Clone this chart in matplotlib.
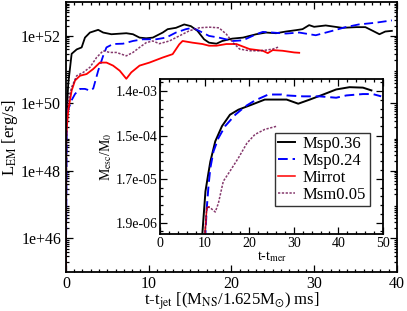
import numpy as np
import matplotlib
matplotlib.use('Agg')
import matplotlib.pyplot as plt
from matplotlib.ticker import MultipleLocator, FixedLocator, LogLocator, NullFormatter

plt.rcParams['font.family'] = ['Liberation Serif', 'DejaVu Serif']
plt.rcParams['mathtext.fontset'] = 'stix'

# Main panel: EM luminosity, log10(L_EM [erg/s]) vs t - t_jet
t_msp036 = [0, 0.05, 0.28, 0.69, 1.3, 1.9, 2.3, 2.9, 3.9, 4.5, 5.5, 6.1, 7.3, 8.1, 8.9, 9.7, 10.5,
            11.7, 12.3, 13.3, 14.3, 15.1, 15.9, 16.7, 17.3, 18.2, 18.9, 20.1, 21.4, 23.0, 24.2,
            25.4, 26.6, 27.8, 28.6, 29.4, 30.0, 31.4, 33.4, 35.1, 36.2, 37.1, 37.9, 38.6, 39.4]
L_msp036 = [44.5, 49.5, 50.59, 51.47, 51.6, 51.66, 51.95, 52.1, 52.18, 52.1, 52.05, 52.06, 52.08,
            52.05, 51.95, 51.93, 51.95, 52.1, 52.2, 52.24, 52.34, 52.29, 52.15, 51.9, 51.8, 51.77,
            51.85, 51.92, 51.95, 52.05, 52.1, 52.08, 52.13, 52.17, 52.2, 52.32, 52.27, 52.31,
            52.24, 52.26, 52.26, 52.15, 52.05, 52.13, 52.15]

t_msp024 = [0, 0.1, 0.7, 1.1, 1.7, 2.3, 2.9, 3.3, 3.9, 4.5, 4.9, 5.7, 6.9, 8.1, 9.3, 10.9, 12.1,
            13.3, 14.5, 15.3, 16.1, 17.3, 18.5, 20.2, 21.4, 23.0, 23.8, 25.0, 26.6, 28.2, 30.2,
            32.2, 33.8, 35.4, 37.4, 39.4]
L_msp024 = [44.5, 49.7, 50.1, 50.28, 50.43, 50.43, 50.38, 50.44, 50.97, 51.41, 51.66, 51.76, 51.77,
            51.85, 51.9, 51.9, 51.95, 52.1, 52.2, 52.24, 52.15, 52.0, 51.95, 51.85, 51.87, 52.05,
            52.12, 52.1, 52.07, 52.1, 52.02, 52.15, 52.26, 52.34, 52.39, 52.46]

t_mirrot = [0, 0.02, 0.28, 0.69, 1.1, 1.7, 2.5, 3.3, 4.1, 4.9, 5.7, 6.5, 7.3, 7.9, 8.9, 10.1, 11.7,
            12.9, 13.7, 14.1, 15.3, 16.5, 17.3, 18.2, 19.4, 20.6, 22.2, 23.8, 24.4, 25.0, 26.2,
            27.6, 28.2]
L_mirrot = [44.5, 49.0, 49.8, 50.38, 50.68, 50.82, 50.87, 51.02, 51.21, 51.21, 51.12, 50.97, 50.73,
            50.92, 51.12, 51.21, 51.36, 51.46, 51.75, 51.85, 51.8, 51.76, 51.71, 51.71, 51.76,
            51.76, 51.61, 51.56, 51.49, 51.58, 51.56, 51.51, 51.5]

t_msm005 = [0, 0.1, 0.69, 1.3, 2.1, 2.9, 3.7, 4.5, 5.3, 6.1, 7.3, 8.1, 8.9, 9.7, 10.5, 11.3, 12.5,
            13.7, 14.9, 16.1, 17.3, 18.5, 19.4, 20.2, 21.0, 22.2, 23.4, 24.2, 25.0, 25.8]
L_msm005 = [44.5, 49.9, 50.48, 50.82, 50.92, 51.07, 51.36, 51.56, 51.51, 51.51, 51.41, 51.51, 51.66,
            51.8, 51.85, 51.77, 51.85, 52.0, 52.15, 52.24, 52.26, 52.24, 52.05, 51.8, 51.61,
            51.56, 51.56, 51.58, 51.61, 51.68]

# Inset: escaping mass, log10(M_esc/M_0) vs t - t_mer
ti_msp036 = [9.4, 10.2, 10.8, 11.3, 12.4, 13.9, 15.7, 17.6, 20.6, 23.5, 25.5, 28.4, 31.0, 33.6,
             36.6, 39.5, 42.5, 45.5, 47.4]
M_msp036 = [-6.1, -5.04, -4.68, -4.39, -3.95, -3.62, -3.37, -3.26, -3.15, -3.04, -3.04, -3.04,
            -3.13, -3.04, -2.93, -2.82, -2.77, -2.78, -2.84]

ti_msp024 = [10.1, 10.5, 10.9, 11.3, 12.0, 13.1, 14.6, 16.9, 19.1, 21.3, 24.3, 27.3, 28.4, 32.1,
             35.8, 39.5, 41.8, 45.5, 47.7, 49.6]
M_msp024 = [-6.1, -5.4, -4.9, -4.53, -4.17, -3.88, -3.62, -3.37, -3.19, -3.06, -2.93, -2.93,
            -2.95, -2.97, -2.97, -3.0, -2.95, -2.92, -2.92, -2.97]

ti_mirrot = [10.0, 10.5, 11.0]
M_mirrot = [-6.1, -5.4, -5.38]

ti_msm005 = [10.0, 10.5, 11.3, 12.4, 13.1, 14.2, 15.7, 17.6, 19.5, 21.3, 23.5, 26.2]
M_msm005 = [-6.1, -5.37, -5.4, -5.49, -5.3, -4.82, -4.6, -4.31, -3.99, -3.8, -3.69, -3.62]

inset_yticks = [1.9e-06, 1.7e-05, 1.5e-04, 1.4e-03]
inset_yticklabels = ['1.9e-06', '1.7e-05', '1.5e-04', '1.4e-03']

purple = '#670748'

fig = plt.figure(figsize=(4.07, 3.11), dpi=100)
ax = fig.add_axes([0.162, 0.125, 0.813, 0.868])

ax.plot(t_msp036, 10 ** np.array(L_msp036), color='black', lw=1.3)
ax.plot(t_msp024, 10 ** np.array(L_msp024), color='blue', lw=1.3, dashes=(5, 2.5))
ax.plot(t_mirrot, 10 ** np.array(L_mirrot), color='red', lw=1.3)
ax.plot(t_msm005, 10 ** np.array(L_msm005), color=purple, lw=1.1, dashes=(1.5, 1), alpha=0.8)

ax.set_yscale('log')
ax.set_xlim(0, 40)
ax.set_ylim(1e45, 1e53)
ax.xaxis.set_major_locator(MultipleLocator(10))
ax.xaxis.set_minor_locator(MultipleLocator(1))
ax.yaxis.set_major_locator(FixedLocator([1e46, 1e48, 1e50, 1e52]))
ax.set_yticklabels(['1e+46', '1e+48', '1e+50', '1e+52'])
ax.yaxis.set_minor_locator(LogLocator(base=10, subs=np.arange(2, 10), numticks=30))
ax.yaxis.set_minor_formatter(NullFormatter())
ax.tick_params(which='both', direction='in', top=True, right=True, labelsize=11.5, width=0.9)
ax.tick_params(axis='x', pad=2.5)
ax.tick_params(which='major', length=5)
ax.tick_params(which='minor', length=2.5)
for s in ax.spines.values():
    s.set_linewidth(1.3)
ax.set_xlabel(r't-t$_{\rm jet}$ [(M$_{\rm NS}$/1.625M$_{\odot}$) ms]', fontsize=12, labelpad=-1)
ax.set_ylabel(r'L$_{\rm EM}$ [erg/s]', fontsize=12, labelpad=1)

# inset
ins = fig.add_axes([0.393, 0.248, 0.548, 0.498])
ins.plot(ti_msp036, 10 ** np.array(M_msp036), color='black', lw=1.4, label='Msp0.36')
ins.plot(ti_msp024, 10 ** np.array(M_msp024), color='blue', lw=1.4, dashes=(5, 2.5), label='Msp0.24')
ins.plot(ti_mirrot, 10 ** np.array(M_mirrot), color='red', lw=1.1, label='Mirrot')
ins.plot(ti_msm005, 10 ** np.array(M_msm005), color=purple, lw=1.1, dashes=(1.5, 1), alpha=0.8,
         label='Msm0.05')
ins.set_yscale('log')
ins.set_xlim(0, 50)
ins.set_ylim(1.08e-6, 2.56e-3)
ins.xaxis.set_major_locator(MultipleLocator(10))
ins.xaxis.set_minor_locator(MultipleLocator(2))
ins.yaxis.set_major_locator(FixedLocator(inset_yticks))
ins.set_yticklabels(inset_yticklabels)
lo = np.log10(inset_yticks)
step = (lo[-1] - lo[0]) / 3
minor = [10 ** (lo[0] + step * (k / 5.0)) for k in range(-2, 19) if k % 5 != 0]
ins.yaxis.set_minor_locator(FixedLocator(minor))
ins.yaxis.set_minor_formatter(NullFormatter())
ins.tick_params(which='both', direction='in', top=True, right=True, labelsize=10, width=0.9, pad=2)
ins.tick_params(which='major', length=5)
ins.tick_params(which='minor', length=2.5)
for s in ins.spines.values():
    s.set_linewidth(1.3)
ins.set_xlabel(r't-t$_{\rm mer}$', fontsize=10, labelpad=0)
ins.set_ylabel(r'M$_{\rm esc}$/M$_0$', fontsize=10, labelpad=1)

leg = ins.legend(loc='lower right', bbox_to_anchor=(0.94, 0.18), fontsize=12, frameon=True,
                 fancybox=False, edgecolor='black', handlelength=1.0, handletextpad=0.5,
                 borderpad=0.2, labelspacing=0.05, borderaxespad=0)
leg.get_frame().set_linewidth(1.0)

fig.savefig('out.png', dpi=100)
